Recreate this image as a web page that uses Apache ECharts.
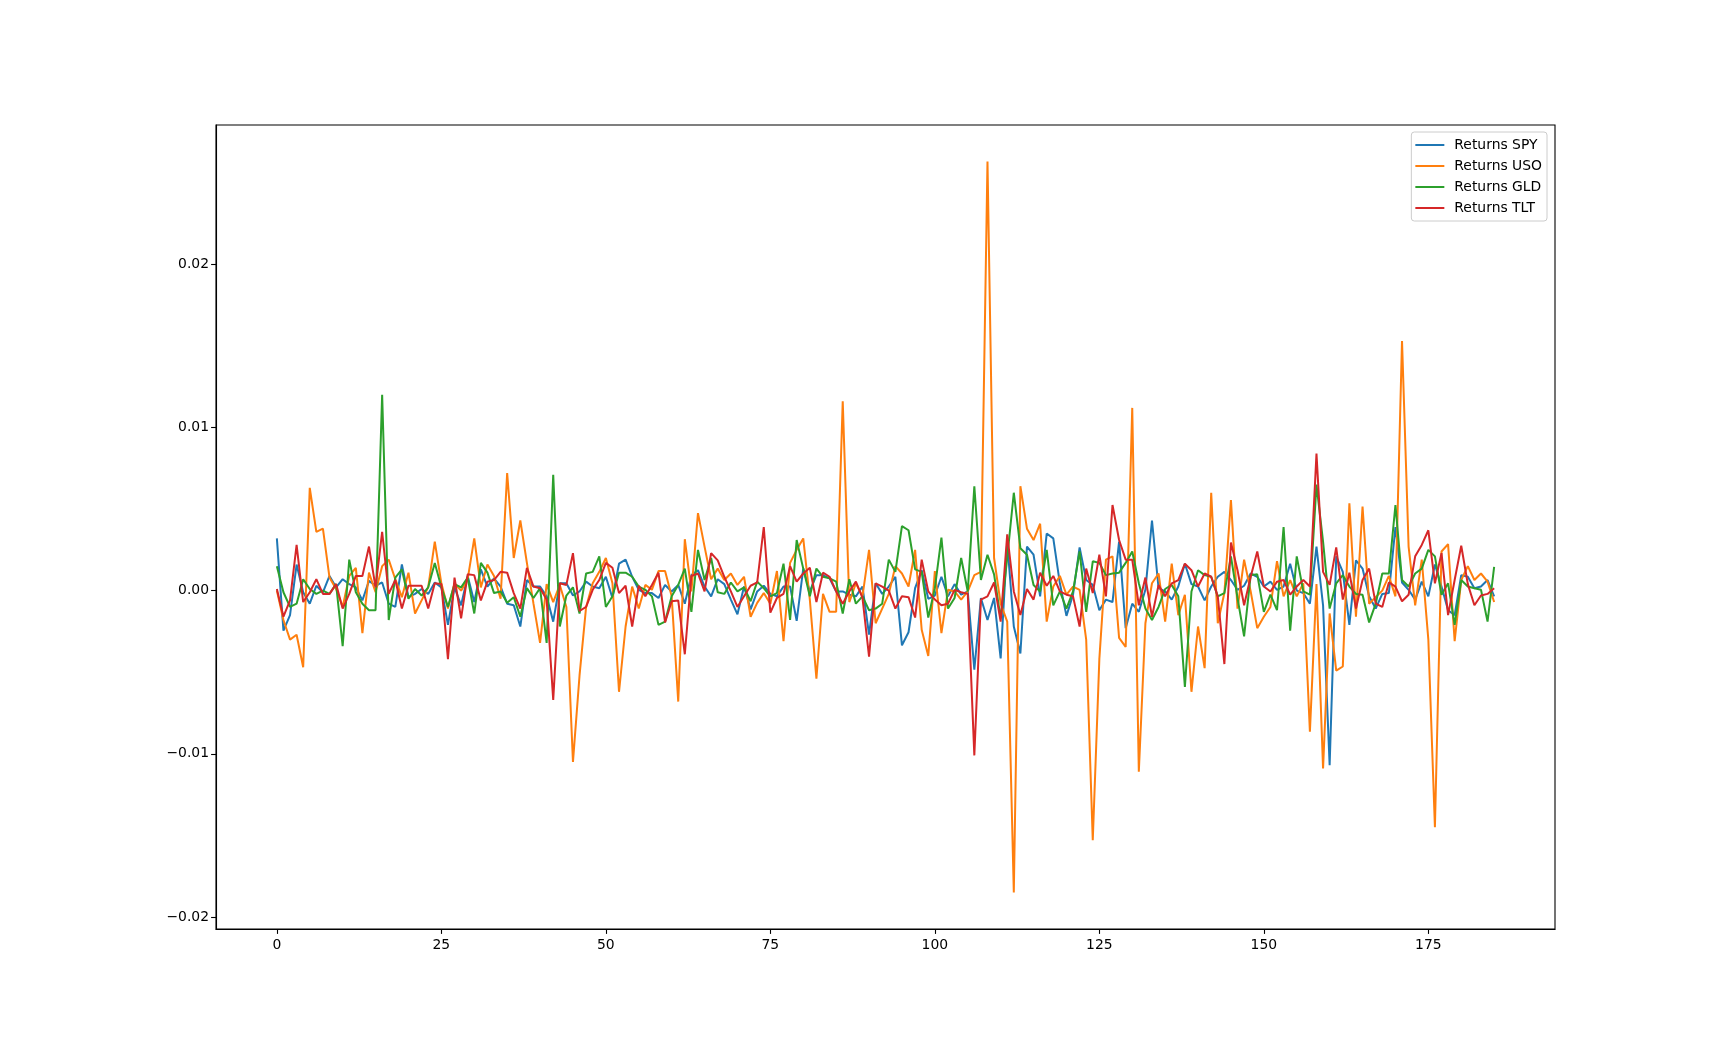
<!DOCTYPE html>
<html>
<head>
<meta charset="utf-8">
<script src="https://cdn.jsdelivr.net/npm/echarts@6/dist/echarts.min.js"></script>
<style>
html,body{margin:0;padding:0;background:#fff;}
#chart{width:1728px;height:1044px;}
</style>
</head>
<body>
<div id="chart"></div>
<script>
const seriesNames = ['Returns SPY', 'Returns USO', 'Returns GLD', 'Returns TLT'];
const xTicks = [0, 25, 50, 75, 100, 125, 150, 175];
const yTicks = [-0.02, -0.01, 0, 0.01, 0.02];

const spy = [0.0032,-0.00245,-0.0015,0.0016,-0.0001,-0.0008,0.0003,-0.0001,0.0009,0.0002,
0.0007,0.0004,0.0002,-0.0006,0.0006,0.0003,0.0005,-0.0008,-0.001,0.0016,
-0.0004,-0.0002,0.0001,-0.0002,0.0005,0.0002,-0.0021,0.0002,-0.0009,0.0009,
-0.0007,0.0013,0.00025,0.00075,0.00025,-0.0008,-0.0009,-0.0022,0.00065,0.00025,
0.00025,-0.00035,-0.0019,0.00045,0.00045,-0.0003,-0.00005,0.00055,0.00025,0.00015,
0.00085,-0.00045,0.00165,0.0019,0.00085,0.00005,-0.00015,-0.00015,-0.00045,0.00035,
-0.00005,0.00035,-0.0008,0.00095,0.00125,0.00025,-0.00035,0.0007,0.0004,-0.00055,
-0.00145,0.00025,-0.00115,-0.00005,0.0003,-0.0002,-0.00035,0.00025,0.00025,-0.00185,
0.00135,-0.00005,0.00095,0.00095,0.00075,-0.00005,-0.00005,-0.00025,-0.00035,0.00025,
-0.0027,0.00045,-0.0002,0.00025,0.00085,-0.00335,-0.00255,0.00015,0.00125,-0.0005,
-0.0003,0.00085,-0.00035,0.0004,-0.00025,-0.00005,-0.00485,-0.00045,-0.0018,-0.00045,
-0.00415,0.003,-0.0022,-0.00385,0.0027,0.0022,-0.00035,0.0035,0.0032,0.00045,
-0.00155,-0.00025,0.00265,0.00065,0.00035,-0.0012,-0.00055,-0.0007,0.003,-0.0023,
-0.0008,-0.0013,0.00005,0.0043,0.00015,-0.00005,-0.00055,0.00025,0.00165,0.0004,
0.00025,-0.0006,0.00025,0.00085,0.00115,0.00065,0.00005,0.0003,0.00105,0.00085,
0.00025,0.00055,0.00005,0.00025,0.00165,0.0,-0.00015,-0.0008,0.0027,-0.0009,
-0.0107,0.0021,0.00115,-0.0021,0.00185,0.00135,-0.00035,-0.0011,-0.0002,-0.00015,
0.0039,0.0005,0.00005,-0.00055,0.00055,-0.00035,0.0016,0.00025,-0.0012,-0.0015,
0.00095,0.00085,0.00015,0.00025,0.00065,-0.00035];

const uso = [0.0,-0.0018,-0.003,-0.0027,-0.0047,0.0063,0.0036,0.0038,0.0008,0.0001,
-0.001,0.0009,0.0014,-0.0026,0.0011,-0.0001,0.0015,0.0019,0.0007,-0.0004,
0.0011,-0.0014,-0.0006,0.0002,0.003,0.00045,-0.0011,0.00045,0.0,0.0007,
0.0032,0.0002,0.0016,0.0009,-0.0005,0.0072,0.002,0.0043,0.0017,-0.0008,
-0.0032,0.0004,-0.0007,0.00035,-0.001,-0.0105,-0.0052,-0.001,0.00045,0.00115,
0.002,0.00045,-0.0062,-0.0022,0.00025,-0.0011,0.00035,0.00005,0.0012,0.0012,
-0.00035,-0.0068,0.00315,-0.00005,0.00475,0.0027,0.0007,0.00135,0.00065,0.00105,
0.00035,0.00085,-0.0016,-0.00075,-0.00015,-0.0008,0.0012,-0.0031,0.0017,0.0025,
0.0032,-0.00055,-0.0054,-0.0002,-0.0013,-0.0013,0.0116,-0.0007,0.00045,-0.00035,
0.0025,-0.002,-0.0011,-0.0002,0.0015,0.00105,0.00025,0.0025,-0.0024,-0.004,
0.0012,-0.0026,0.00005,-0.00005,-0.00055,-0.00005,0.00095,0.00115,0.0263,0.002,
-0.0008,-0.0019,-0.0185,0.0064,0.0038,0.0031,0.0041,-0.0019,0.00025,0.0009,
-0.00025,0.00025,0.00005,-0.003,-0.0153,-0.0042,0.0019,0.0021,-0.0029,-0.00345,
0.0112,-0.0111,-0.002,0.00045,0.00105,-0.0019,0.00165,-0.0015,-0.00025,-0.0062,
-0.0022,-0.00475,0.006,-0.002,-0.00015,0.00555,-0.0011,0.0019,-0.00005,-0.0023,
-0.0016,-0.001,0.0018,-0.00035,0.00065,-0.00035,0.00045,-0.00865,0.0004,-0.0109,
-0.0014,-0.0049,-0.00465,0.00535,-0.0016,0.00515,-0.0008,-0.0004,0.0,0.0009,
-0.00035,0.0153,0.0027,-0.0009,0.0019,-0.003,-0.0145,0.0024,0.00285,-0.0031,
0.00065,0.0015,0.00065,0.00105,0.00055,-0.0007];

const gld = [0.0015,-0.0001,-0.001,-0.0008,0.0007,0.0001,-0.0002,0.0,-0.0002,0.0004,
-0.0034,0.0019,-0.0001,-0.0008,-0.0012,-0.0012,0.012,-0.0018,0.0008,0.0013,
-0.0005,0.0001,-0.0003,0.0002,0.0017,0.0002,-0.001,0.0004,0.0002,0.0008,
-0.0014,0.0017,0.0011,-0.00015,-0.00005,-0.00075,-0.0004,-0.0016,0.00015,-0.00045,
0.00015,-0.0032,0.0071,-0.0022,-0.0003,0.0002,-0.0014,0.00105,0.00115,0.0021,
-0.001,-0.00035,0.0011,0.0011,0.00085,0.00025,0.00005,-0.00035,-0.0021,-0.0019,
-0.00035,0.00035,0.00135,-0.0013,0.0025,0.00065,0.002,-0.0001,-0.0002,0.0005,
-0.00005,0.0002,-0.00065,0.00055,0.00015,-0.00035,-0.00015,0.00165,-0.0018,0.0031,
0.00135,-0.00035,0.00135,0.00085,0.00075,0.00055,-0.0014,0.0007,-0.0008,-0.00035,
-0.0012,-0.0011,-0.0008,0.0019,0.00115,0.00395,0.0037,0.0013,0.00115,-0.00165,
0.00015,0.00325,-0.0011,-0.00045,0.002,-0.00005,0.0064,0.00065,0.0022,0.001,
-0.0017,0.002,0.006,0.0026,0.0022,0.00035,-0.00005,0.0025,-0.0009,-0.00005,
-0.0011,-0.00005,0.0024,-0.0013,0.0018,0.0017,0.00095,0.00105,0.0011,0.0017,
0.0024,0.00045,-0.0011,-0.0018,-0.001,0.0001,0.00035,-0.00035,-0.0059,-0.00005,
0.00125,0.00095,0.00085,-0.00035,-0.00015,0.0021,-0.00045,-0.0028,0.00095,0.001,
-0.0013,-0.00025,-0.0012,0.0039,-0.00245,0.0021,-0.00005,-0.00025,0.0065,0.003,
-0.0011,0.00045,0.00095,0.00025,-0.0002,-0.00025,-0.00195,-0.0008,0.00105,0.00105,
0.00525,0.00065,0.00025,0.00105,0.00135,0.0025,0.0021,-0.00025,0.00045,-0.0021,
0.00065,0.00025,0.00015,0.00005,-0.0019,0.00145];

const tlt = [0.0001,-0.0016,-0.0006,0.0028,-0.0007,-0.0001,0.0007,-0.0002,-0.0002,0.0004,
-0.0011,-0.0002,0.0009,0.0009,0.0027,0.0002,0.0036,-0.0002,0.00065,-0.0011,
0.0003,0.0003,0.0003,-0.0011,0.00045,0.0004,-0.0042,0.0008,-0.0017,0.001,
0.00095,-0.0006,0.00055,0.00065,0.00115,0.0011,-0.00015,-0.0011,0.0014,0.00025,
0.00015,-0.00055,-0.0067,0.00045,0.00035,0.0023,-0.00125,-0.001,0.00005,0.00065,
0.0017,0.0014,-0.00015,0.0003,-0.0022,0.0003,-0.00035,0.00035,0.0011,-0.00195,
-0.00065,-0.0006,-0.0039,0.0009,0.00105,-0.00005,0.0023,0.00185,0.00085,-0.00005,
-0.001,-0.00035,0.0003,0.0005,0.0039,-0.00135,-0.00045,-0.0002,0.0015,0.00055,
0.00105,0.0014,-0.0007,0.0011,0.00085,-0.00005,-0.0008,-0.00005,0.00055,-0.00045,
-0.00405,0.00045,0.00025,0.0,-0.0011,-0.00035,-0.0004,-0.00165,0.0019,-0.00005,
-0.00055,-0.0009,-0.0008,0.00005,-0.0001,-0.0002,-0.0101,-0.00055,-0.00035,0.0005,
-0.0019,0.00345,-0.00005,-0.0015,0.0001,-0.00055,0.0011,0.0003,0.0009,-0.00005,
-0.00025,-0.00035,-0.0022,0.00135,-0.00015,0.0022,-0.00035,0.00525,0.0031,0.0019,
0.0019,-0.0009,0.0008,-0.0016,0.00035,-0.00035,0.00045,0.00065,0.00165,0.00125,
0.00025,0.00105,0.00085,-0.00035,-0.0045,0.00295,0.00125,-0.0009,0.00085,0.0024,
0.00025,-0.00005,0.00055,0.00065,-0.00025,0.00025,0.00065,0.00025,0.0084,0.00115,
0.00035,0.00265,-0.00055,0.0011,-0.0011,0.00065,0.00135,-0.0008,-0.001,0.0005,
0.00025,-0.00065,-0.00025,0.0021,0.0028,0.0037,0.00045,0.0023,-0.0015,0.00065,
0.00275,0.0004,-0.0009,-0.0003,-0.0002,0.00015];

const xIndex = spy.map((_, i) => i);
const colors = ['#1f77b4', '#ff7f0e', '#2ca02c', '#d62728'];
const allSeries = [spy, uso, gld, tlt];

const chart = echarts.init(document.getElementById('chart'), null, {renderer: 'canvas'});
const font = 'DejaVu Sans';
const fmtY = v => (v < 0 ? '\u2212' : '') + Math.abs(v).toFixed(2);

chart.setOption({
  animation: false,
  backgroundColor: '#fff',
  color: colors,
  grid: {left: 216, right: 173, top: 125, bottom: 115, show: true, borderColor: '#000', borderWidth: 1.1, backgroundColor: 'transparent'},
  legend: {
    show: true,
    orient: 'vertical',
    right: 181,
    top: 132,
    padding: [6, 5, 6, 4],
    itemWidth: 29,
    itemHeight: 2,
    itemGap: 7,
    icon: 'rect',
    backgroundColor: 'rgba(255,255,255,0.8)',
    borderColor: '#cccccc',
    borderWidth: 1,
    borderRadius: 3,
    textStyle: {fontFamily: font, fontSize: 13.9, color: '#000', padding: [0, 0, 0, 5]},
    data: seriesNames
  },
  xAxis: {
    type: 'value',
    min: -9.25,
    max: 194.25,
    axisLine: {show: true, onZero: false, lineStyle: {color: '#000', width: 1.1}},
    axisTick: {show: true, inside: false, length: 4.9, lineStyle: {color: '#000', width: 1.1}, customValues: xTicks},
    axisLabel: {show: true, margin: 9, color: '#000', fontFamily: font, fontSize: 13.9, customValues: xTicks, formatter: v => String(v)},
    splitLine: {show: false}
  },
  yAxis: {
    type: 'value',
    min: -0.02074,
    max: 0.02854,
    axisLine: {show: true, onZero: false, lineStyle: {color: '#000', width: 1.1}},
    axisTick: {show: true, inside: false, length: 4.9, lineStyle: {color: '#000', width: 1.1}, customValues: yTicks},
    axisLabel: {show: true, margin: 7, color: '#000', fontFamily: font, fontSize: 13.9, customValues: yTicks, formatter: fmtY},
    splitLine: {show: false}
  },
  series: allSeries.map((arr, k) => ({
    name: seriesNames[k],
    type: 'line',
    data: xIndex.map(i => [i, arr[i]]),
    showSymbol: false,
    symbol: 'none',
    lineStyle: {width: 2, color: colors[k]},
    itemStyle: {color: colors[k]},
    emphasis: {disabled: true}
  }))
});
</script>
</body>
</html>
